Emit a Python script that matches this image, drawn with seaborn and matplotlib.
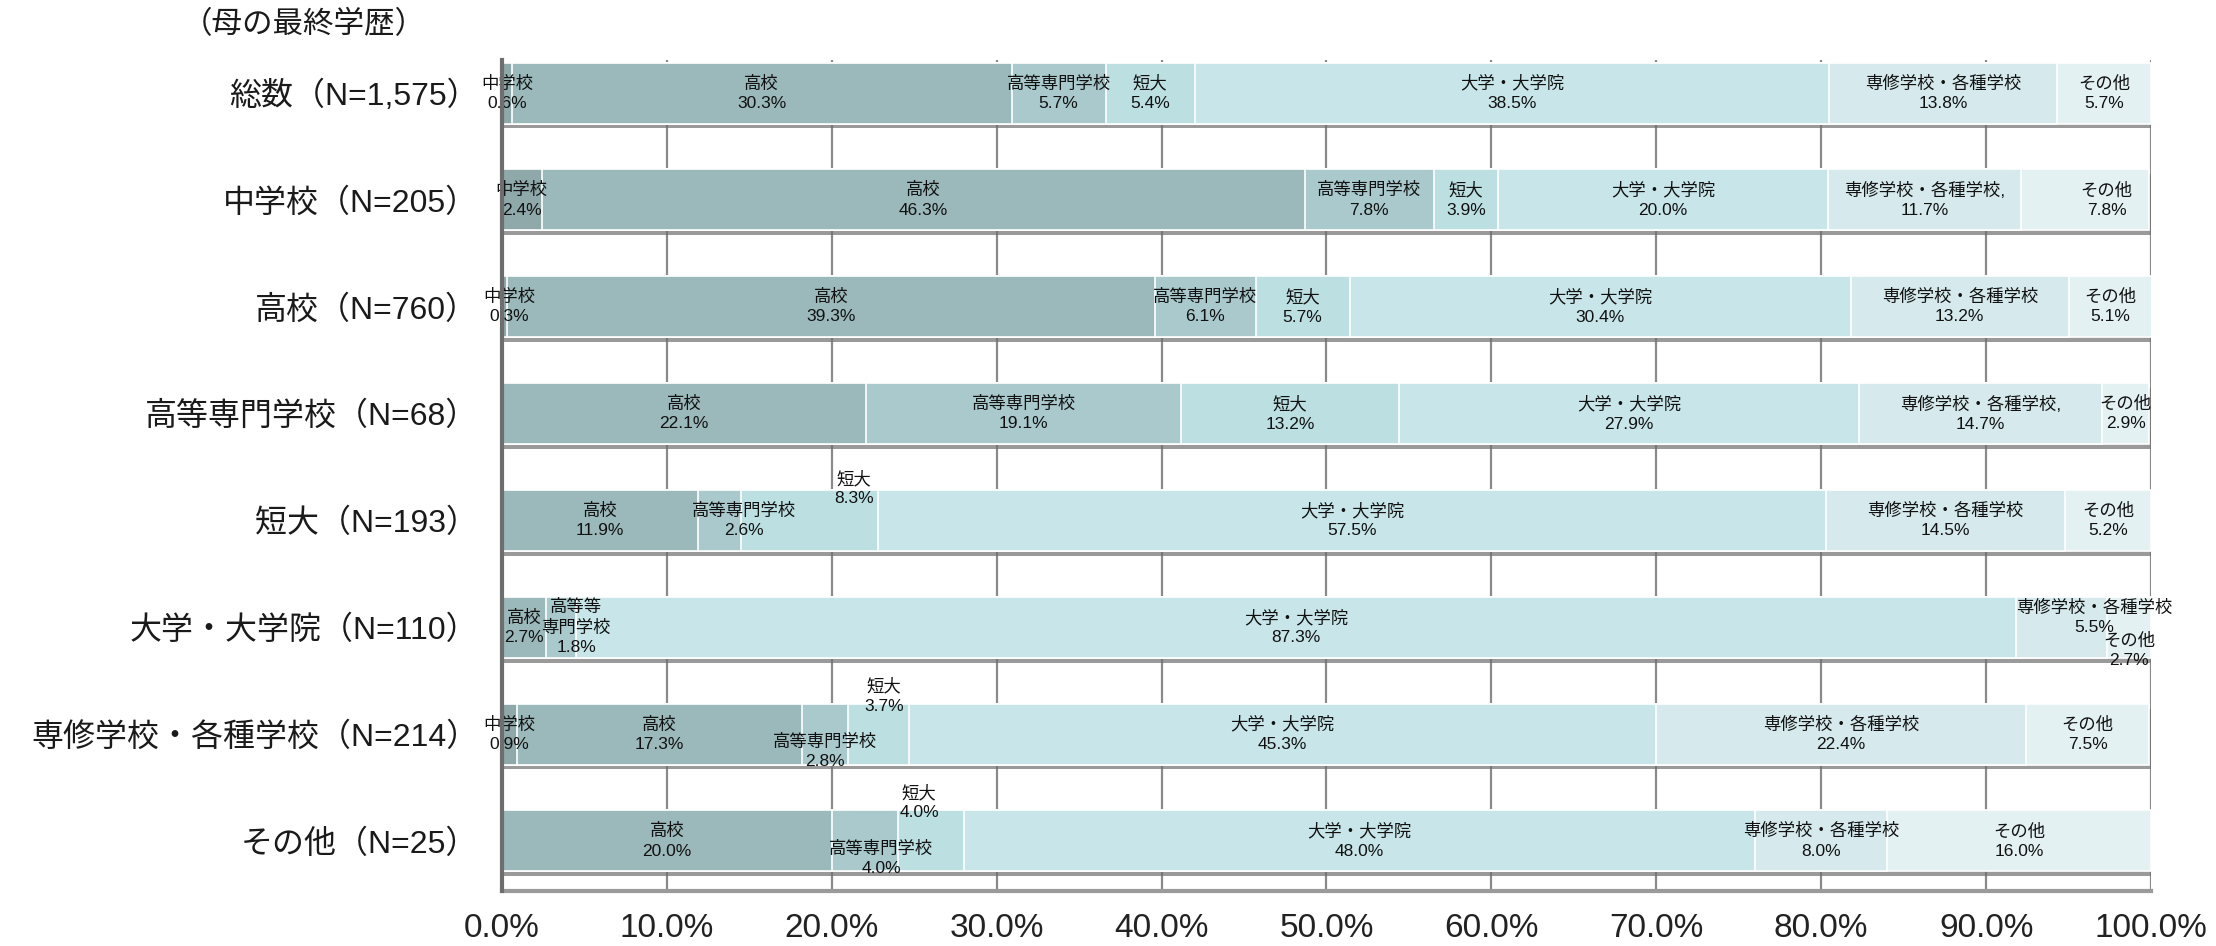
import numpy as np
import pandas as pd
import seaborn as sns
import matplotlib.pyplot as plt
import matplotlib.patheffects as pe

sns.set_style("white")
plt.rcParams['font.family'] = ['Liberation Sans', 'Noto Sans CJK JP', 'DejaVu Sans']

# Data
rows = ['総数（N=1,575）', '中学校（N=205）', '高校（N=760）', '高等専門学校（N=68）',
        '短大（N=193）', '大学・大学院（N=110）', '専修学校・各種学校（N=214）', 'その他（N=25）']
segments = ['中学校', '高校', '高等専門学校', '短大', '大学・大学院', '専修学校・各種学校', 'その他']
chugakko = [0.6, 2.4, 0.3, 0.0, 0.0, 0.0, 0.9, 0.0]
koko = [30.3, 46.3, 39.3, 22.1, 11.9, 2.7, 17.3, 20.0]
kosen = [5.7, 7.8, 6.1, 19.1, 2.6, 1.8, 2.8, 4.0]
tandai = [5.4, 3.9, 5.7, 13.2, 8.3, 0.0, 3.7, 4.0]
daigaku = [38.5, 20.0, 30.4, 27.9, 57.5, 87.3, 45.3, 48.0]
senshu = [13.8, 11.7, 13.2, 14.7, 14.5, 5.5, 22.4, 8.0]
sonota = [5.7, 7.8, 5.1, 2.9, 5.2, 2.7, 7.5, 16.0]
xticks = np.arange(0, 101, 10)

colors = ['#8fa8aa', '#9bb8ba', '#a9c9cc', '#bcdfe2', '#c8e6e9', '#d6eaed', '#e4f1f2']

df = pd.DataFrame({'row': rows, '中学校': chugakko, '高校': koko, '高等専門学校': kosen,
                   '短大': tandai, '大学・大学院': daigaku, '専修学校・各種学校': senshu,
                   'その他': sonota})
cum = df[segments].cumsum(axis=1)

# label text overrides and offsets (dx in %, dy in rows)
name_override = {(1, 5): '専修学校・各種学校,', (3, 5): '専修学校・各種学校,',
                 (5, 2): '高等等\n専門学校'}
offsets = {(1, 6): (1.3, 0), (2, 0): (0.3, 0), (4, 2): (1.5, 0), (4, 3): (2.7, -0.30),
           (5, 2): (0.9, 0), (5, 5): (2.0, -0.09), (5, 6): (0.0, 0.22),
           (6, 2): (0.0, 0.16), (6, 3): (0.3, -0.36),
           (7, 2): (1.0, 0.16), (7, 3): (-0.7, -0.36)}

fig, ax = plt.subplots(figsize=(22.16, 9.46), dpi=100)
fig.subplots_adjust(left=0.2265, right=0.9707, top=0.9366, bottom=0.058)

# stacked bars: draw cumulative totals from right to left
for i in range(len(segments) - 1, -1, -1):
    seg = segments[i]
    sns.barplot(x=cum[seg], y=df['row'], orient='h', color=colors[i], width=0.57,
                edgecolor='white', linewidth=1.2, saturation=1, ax=ax, zorder=3)
    if i == len(segments) - 1:
        for p in ax.patches:
            p.set_path_effects([pe.SimplePatchShadow(offset=(1.5, -3.5),
                                                     shadow_rgbFace='#707070', alpha=0.7),
                                pe.Normal()])

for r in range(len(rows)):
    for j, seg in enumerate(segments):
        v = df.loc[r, seg]
        if v <= 0:
            continue
        center = cum.loc[r, seg] - v / 2
        dx, dy = offsets.get((r, j), (0, 0))
        name = name_override.get((r, j), seg)
        ax.text(center + dx, r + dy, f"{name}\n{v:.1f}%", ha='center', va='center',
                fontsize=12.5, color='#111111', linespacing=1.35, zorder=5)

ax.set_xlim(0, 100)
ax.set_ylim(7.47, -0.31)
ax.set_xticks(xticks)
ax.set_xticklabels([f"{t:.1f}%" for t in xticks], fontsize=24, color='#222222')
ax.tick_params(axis='x', length=0, pad=16)
ax.tick_params(axis='y', length=0, pad=17, labelsize=23, labelcolor='#1a1a1a')
ax.set_xlabel('')
ax.set_ylabel('')
ax.xaxis.grid(True, color='#8a8a8a', linewidth=1.6, zorder=0)
ax.set_axisbelow(True)
for s in ['top', 'right']:
    ax.spines[s].set_visible(False)
ax.spines['left'].set_color('#6e6e6e')
ax.spines['left'].set_linewidth(3)
ax.spines['left'].set_zorder(6)
ax.spines['bottom'].set_color('#9a9a9a')
ax.spines['bottom'].set_linewidth(3)

fig.text(0.137, 0.973, '（母の最終学歴）', ha='center', va='center', fontsize=22,
         color='#1a1a1a')

fig.savefig('out.png', dpi=100)
